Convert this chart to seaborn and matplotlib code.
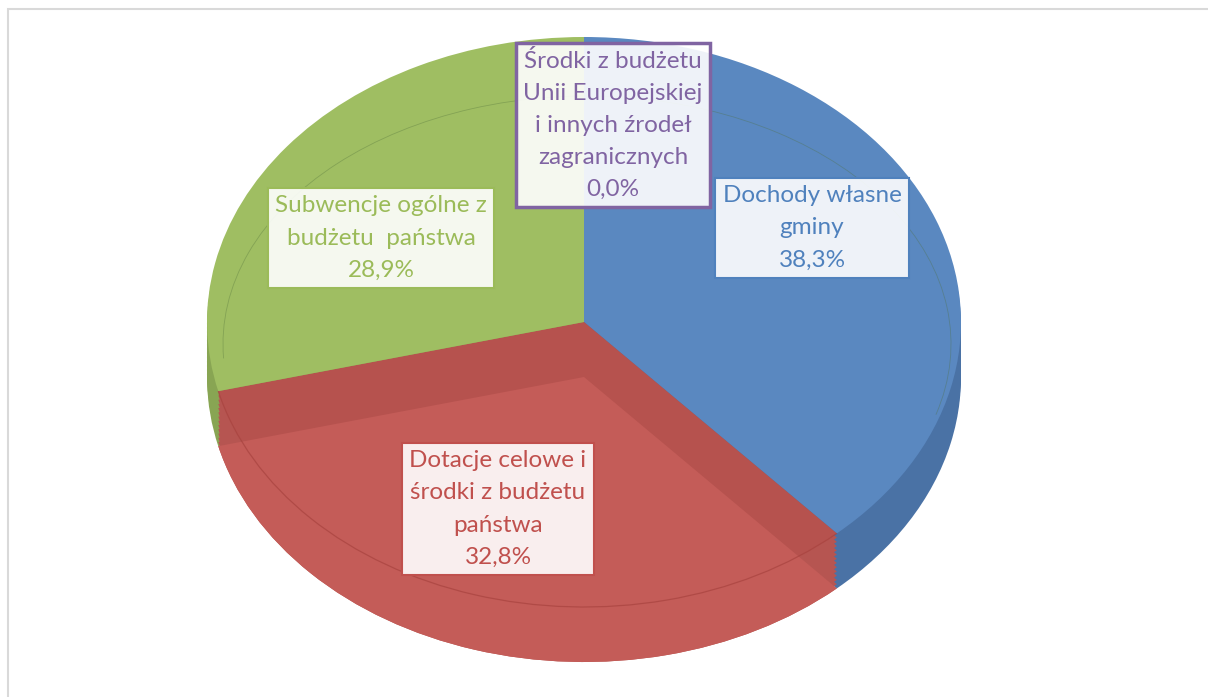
import matplotlib
matplotlib.use('Agg')
import matplotlib.pyplot as plt
from matplotlib.patches import Arc, Rectangle
import seaborn as sns
import numpy as np

sns.set_theme(style='white')
plt.rcParams['font.family'] = ['Lato', 'DejaVu Sans']

# ==========================================
# dane
# ==========================================
names = ['Dochody własne\ngminy',
         'Dotacje celowe i\nśrodki z budżetu\npaństwa',
         'Subwencje ogólne z\nbudżetu  państwa',
         'Środki z budżetu\nUnii Europejskiej\ni innych źrodeł\nzagranicznych']
shares = [38.3, 32.8, 28.9, 0.0]

top_colors = ['#5a88c0', '#b6524e', '#9fbe62', '#8064a2']
side_colors = ['#4a72a5', '#b65551', '#88a553', '#6a5289']
face_red = '#c45c58'
text_colors = ['#4f81bd', '#c0504d', '#9bbb59', '#8064a2']

# ==========================================
# uklad (piksele)
# ==========================================
W, H = 1208, 697
cx, cy = 584, 322
rx, ry = 377, 285
depth = 55 / ry

fig = plt.figure(figsize=(W / 100, H / 100), dpi=100)
ax = fig.add_axes([0, 0, 1, 1])

# sciany boczne (kilka warstw)
for off in np.linspace(depth, 0, 14)[:-1]:
    ax.pie(shares, colors=side_colors, startangle=90, counterclock=False,
           center=(0, -off), wedgeprops=dict(linewidth=0))

# gorna powierzchnia
ax.pie(shares, colors=top_colors, startangle=90, counterclock=False,
       center=(0, 0), wedgeprops=dict(linewidth=0))

# katy granic wycinkow
cum = np.cumsum([0] + shares) / sum(shares)
angles = 90 - 360 * cum

# delikatny wewnetrzny luk na zielonym i niebieskim
ax.add_patch(Arc((3 / rx, -22 / ry), 2 * 364 / rx, 2 * 248 / ry,
                 theta1=-15, theta2=183, color='#4f6f3a', lw=0.6, alpha=0.35))

# wycinek czerwony - obnizona powierzchnia
ax.pie(shares, colors=['none', face_red, 'none', 'none'], startangle=90,
       counterclock=False, center=(0, -depth), wedgeprops=dict(linewidth=0))

# krawedz gornej czesci czerwonego wycinka
ax.add_patch(Arc((0, 0), 2, 2, theta1=angles[2], theta2=angles[1],
                 color='#a8433f', lw=0.9, alpha=0.7))

ax.set_xlim(-cx / rx, (W - cx) / rx)
ax.set_ylim(-(H - cy) / ry, cy / ry)
ax.set_aspect('auto')
ax.axis('off')

# etykiety
label_pos = [(812, 228), (498, 509), (381, 238), (613, 125)]
for name, val, col, (px, py), lw in zip(names, shares, text_colors, label_pos,
                                        [1.5, 1.5, 1.5, 2.5]):
    txt = name + '\n' + f'{val:.1f}'.replace('.', ',') + '%'
    fig.text(px / W, 1 - py / H, txt, ha='center', va='center',
             multialignment='center', fontsize=17.5, color=col, linespacing=1.65,
             bbox=dict(boxstyle='square,pad=0.3', fc=(1, 1, 1, 0.9), ec=col, lw=lw))

# ramka obszaru wykresu
fig.patches.append(Rectangle((8 / W, -0.1), 1.2, (H - 9) / H + 0.1,
                             transform=fig.transFigure, fill=False,
                             ec='#d9d9d9', lw=1.5))

fig.savefig('out.png', dpi=100)
